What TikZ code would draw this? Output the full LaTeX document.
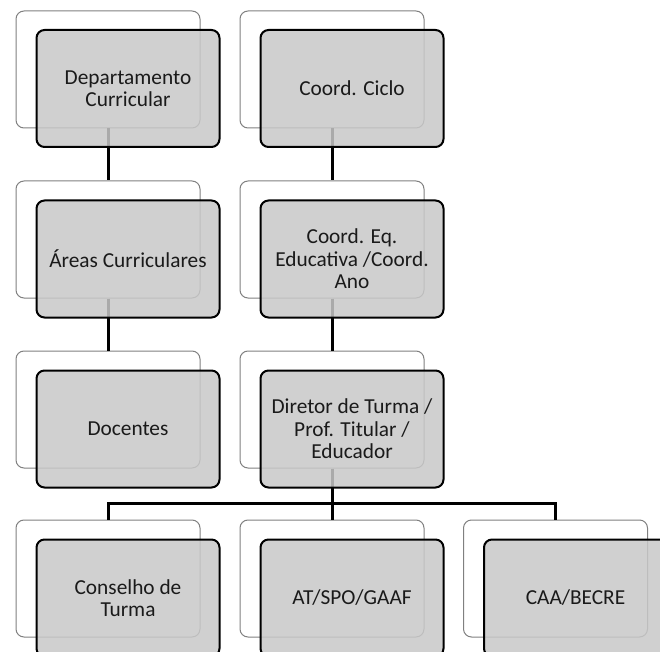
\documentclass[tikz,border=0pt]{standalone}
\usepackage{fontspec}
\setmainfont{Carlito}
\definecolor{backline}{HTML}{808080}
\definecolor{frontfill}{HTML}{C8C8C8}
\definecolor{txt}{HTML}{1A1A1A}
\begin{document}
\begin{tikzpicture}[x=0.75pt,y=-0.75pt,
  backbox/.style={draw=backline,line width=0.75pt,fill=white,rounded corners=6pt,
    minimum width=138pt,minimum height=87.75pt,inner sep=0pt},
  frontbox/.style={draw=black,line width=1.5pt,fill=frontfill,fill opacity=0.85,text opacity=1,
    rounded corners=6pt,minimum width=137.25pt,minimum height=87.75pt,inner sep=2pt,
    align=center,text=txt,font=\fontsize{16pt}{16.75pt}\selectfont},
  conn/.style={draw=black,line width=2.25pt}]
\useasboundingbox (0,0) rectangle (660,652);
\clip (0,0) rectangle (660,652);
% back boxes
\node[backbox] (b11) at (108,69.5) {};
\node[backbox] (b21) at (108,239.5) {};
\node[backbox] (b31) at (108,409.5) {};
\node[backbox] (b12) at (332,69.5) {};
\node[backbox] (b22) at (332,239.5) {};
\node[backbox] (b32) at (332,409.5) {};
\node[backbox] (b41) at (108,578.5) {};
\node[backbox] (b42) at (332,578.5) {};
\node[backbox] (b43) at (555.5,578.5) {};
% connectors
\draw[conn] (b11.south) -- (b21.north);
\draw[conn] (b21.south) -- (b31.north);
\draw[conn] (b12.south) -- (b22.north);
\draw[conn] (b22.south) -- (b32.north);
\draw[conn] (b32.south) -- (b42.north);
\draw[conn,line join=miter] (b41.north) -- ++(0,-16) -| (b43.north);
% front boxes
\node[frontbox] (f11) at (128,88.5) {Departamento\\Curricular};
\node[frontbox] (f21) at (128,259) {Áreas Curriculares};
\node[frontbox] (f31) at (128,429) {Docentes};
\node[frontbox] (f12) at (352,88.5) {Coord. Ciclo};
\node[frontbox] (f22) at (352,259) {Coord. Eq.\\Educativa /Coord.\\Ano};
\node[frontbox] (f32) at (352,429) {Diretor de Turma /\\Prof. Titular /\\Educador};
\node[frontbox] (f41) at (128,598) {Conselho de\\Turma};
\node[frontbox] (f42) at (352,598) {AT/SPO/GAAF};
\node[frontbox] (f43) at (575.5,598) {CAA/BECRE};
\end{tikzpicture}
\end{document}
